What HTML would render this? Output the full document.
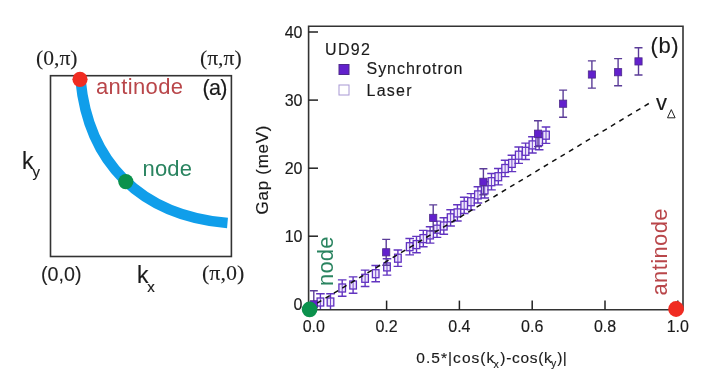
<!DOCTYPE html>
<html><head><meta charset="utf-8"><style>
html,body{margin:0;padding:0;background:#fff;}
body{width:702px;height:379px;overflow:hidden;}
svg{display:block;will-change:transform;}
text{font-family:"Liberation Sans",sans-serif;stroke:currentColor;}
text[fill="#1a1a1a"]{color:#1a1a1a;stroke-width:0.15px;}
text[fill="#222"]{color:#222;stroke-width:0.1px;}
text[fill="#b9464a"],text[fill="#2a8460"]{stroke-width:0;}
.serif{font-family:"Liberation Serif",serif;}
</style></head><body>
<svg width="702" height="379" viewBox="0 0 702 379">
<rect width="702" height="379" fill="#fff"/>

<rect x="50.5" y="75.7" width="180.9" height="180.8" fill="none" stroke="#333" stroke-width="1.6"/>
<path d="M80.5,80 C88.4,162 139.8,215.4 227.5,223" fill="none" stroke="#109eea" stroke-width="10.5"/>
<circle cx="80" cy="79.3" r="7.6" fill="#f02c22"/>
<circle cx="125.8" cy="181.6" r="7.6" fill="#0b914c"/>
<text class="serif" x="36" y="65" font-size="21.6" fill="#222">(0,π)</text>
<text class="serif" x="200" y="65.3" font-size="21.6" fill="#222">(π,π)</text>
<text x="41" y="281" font-size="19.7" fill="#222">(0,0)</text>
<text class="serif" x="202" y="280" font-size="22" fill="#222">(π,0)</text>
<text x="96" y="93.5" font-size="22" textLength="87" lengthAdjust="spacing" fill="#b9464a">antinode</text>
<text x="142.5" y="175.5" font-size="22" textLength="49.5" lengthAdjust="spacing" fill="#2a8460">node</text>
<text x="202.5" y="95" font-size="21.5" textLength="25" lengthAdjust="spacing" fill="#1a1a1a">(a)</text>
<text x="22" y="169" font-size="23" fill="#1a1a1a">k</text><text x="32.5" y="177.3" font-size="15" fill="#1a1a1a">y</text>
<text x="137" y="282.5" font-size="23" fill="#1a1a1a">k</text><text x="147.3" y="291.5" font-size="15" fill="#1a1a1a">x</text>
<path d="M308.6,309.8 V26.3 H683 V309.8 Z" fill="none" stroke="#333" stroke-width="1.6"/>
<line x1="308.6" y1="304.3" x2="318" y2="304.3" stroke="#222" stroke-width="1.5"/>
<text x="302.5" y="310.1" font-size="16" text-anchor="end" fill="#1a1a1a">0</text>
<line x1="308.6" y1="236.2" x2="318" y2="236.2" stroke="#222" stroke-width="1.5"/>
<text x="302.5" y="242.0" font-size="16" text-anchor="end" fill="#1a1a1a">10</text>
<line x1="308.6" y1="168.2" x2="318" y2="168.2" stroke="#222" stroke-width="1.5"/>
<text x="302.5" y="174.0" font-size="16" text-anchor="end" fill="#1a1a1a">20</text>
<line x1="308.6" y1="100.1" x2="318" y2="100.1" stroke="#222" stroke-width="1.5"/>
<text x="302.5" y="105.9" font-size="16" text-anchor="end" fill="#1a1a1a">30</text>
<line x1="308.6" y1="32.0" x2="318" y2="32.0" stroke="#222" stroke-width="1.5"/>
<text x="302.5" y="37.8" font-size="16" text-anchor="end" fill="#1a1a1a">40</text>
<line x1="313.8" y1="309.8" x2="313.8" y2="300.6" stroke="#222" stroke-width="1.5"/>
<text x="313.8" y="331.5" font-size="16" text-anchor="middle" fill="#1a1a1a">0.0</text>
<line x1="386.6" y1="309.8" x2="386.6" y2="300.6" stroke="#222" stroke-width="1.5"/>
<text x="386.6" y="331.5" font-size="16" text-anchor="middle" fill="#1a1a1a">0.2</text>
<line x1="459.4" y1="309.8" x2="459.4" y2="300.6" stroke="#222" stroke-width="1.5"/>
<text x="459.4" y="331.5" font-size="16" text-anchor="middle" fill="#1a1a1a">0.4</text>
<line x1="532.2" y1="309.8" x2="532.2" y2="300.6" stroke="#222" stroke-width="1.5"/>
<text x="532.2" y="331.5" font-size="16" text-anchor="middle" fill="#1a1a1a">0.6</text>
<line x1="605.0" y1="309.8" x2="605.0" y2="300.6" stroke="#222" stroke-width="1.5"/>
<text x="605.0" y="331.5" font-size="16" text-anchor="middle" fill="#1a1a1a">0.8</text>
<line x1="677.8" y1="309.8" x2="677.8" y2="300.6" stroke="#222" stroke-width="1.5"/>
<text x="677.8" y="331.5" font-size="16" text-anchor="middle" fill="#1a1a1a">1.0</text>
<text transform="translate(268.2,214.5) rotate(-90)" font-size="17" textLength="89" lengthAdjust="spacing" fill="#1a1a1a">Gap (meV)</text>
<text x="416.3" y="362.5" font-size="15.5" textLength="78" lengthAdjust="spacing" fill="#1a1a1a">0.5*|cos(k</text>
<text x="493.5" y="367.8" font-size="10.5" fill="#1a1a1a">x</text>
<text x="500.3" y="362.5" font-size="15.5" textLength="51.5" lengthAdjust="spacing" fill="#1a1a1a">)-cos(k</text>
<text x="551" y="367" font-size="10.5" fill="#1a1a1a">y</text>
<text x="557.2" y="362.5" font-size="15.5" textLength="9.5" lengthAdjust="spacing" fill="#1a1a1a">)|</text>
<text x="325" y="54.6" font-size="16" textLength="45" lengthAdjust="spacing" fill="#1a1a1a">UD92</text>
<rect x="339" y="64.5" width="10" height="10" fill="#6220cc" stroke="#4e2a8c" stroke-width="1"/>
<rect x="339" y="85" width="10" height="10" fill="none" stroke="#a898d4" stroke-width="1"/>
<text x="366.5" y="74.4" font-size="16" textLength="96" lengthAdjust="spacing" fill="#1a1a1a">Synchrotron</text>
<text x="366.5" y="95.6" font-size="16" textLength="45" lengthAdjust="spacing" fill="#1a1a1a">Laser</text>
<text x="650.5" y="52.8" font-size="22" textLength="28" lengthAdjust="spacing" fill="#1a1a1a">(b)</text>
<text x="656" y="110" font-size="22" fill="#1a1a1a">v</text>
<path d="M667.5,117.8 L671.3,109.6 L675.1,117.8 Z" fill="none" stroke="#222" stroke-width="1"/>
<defs><clipPath id="pa"><rect x="309.4" y="27" width="673" height="282"/></clipPath></defs><g clip-path="url(#pa)">
<path d="M320.4,293.8 V310.2 M316.1,293.8 H324.7 M316.1,310.2 H324.7" stroke="#6234c0" stroke-width="1.4" fill="none"/>
<rect x="317.1" y="298.0" width="6.6" height="8" fill="#eee6fb" stroke="#6030c0" stroke-width="1.3"/><path d="M320.4,298.0 V306.0" stroke="#7448cc" stroke-width="1"/>
<path d="M330.5,293.8 V310.2 M326.2,293.8 H334.8 M326.2,310.2 H334.8" stroke="#6234c0" stroke-width="1.4" fill="none"/>
<rect x="327.2" y="298.0" width="6.6" height="8" fill="#eee6fb" stroke="#6030c0" stroke-width="1.3"/><path d="M330.5,298.0 V306.0" stroke="#7448cc" stroke-width="1"/>
<path d="M342.2,279.9 V296.2 M337.9,279.9 H346.5 M337.9,296.2 H346.5" stroke="#6234c0" stroke-width="1.4" fill="none"/>
<rect x="338.9" y="284.0" width="6.6" height="8" fill="#eee6fb" stroke="#6030c0" stroke-width="1.3"/><path d="M342.2,284.0 V292.0" stroke="#7448cc" stroke-width="1"/>
<path d="M353.1,276.9 V293.2 M348.8,276.9 H357.4 M348.8,293.2 H357.4" stroke="#6234c0" stroke-width="1.4" fill="none"/>
<rect x="349.8" y="281.0" width="6.6" height="8" fill="#eee6fb" stroke="#6030c0" stroke-width="1.3"/><path d="M353.1,281.0 V289.0" stroke="#7448cc" stroke-width="1"/>
<path d="M365.1,270.1 V286.5 M360.8,270.1 H369.4 M360.8,286.5 H369.4" stroke="#6234c0" stroke-width="1.4" fill="none"/>
<rect x="361.8" y="274.3" width="6.6" height="8" fill="#eee6fb" stroke="#6030c0" stroke-width="1.3"/><path d="M365.1,274.3 V282.3" stroke="#7448cc" stroke-width="1"/>
<path d="M375.7,265.5 V281.8 M371.4,265.5 H380.0 M371.4,281.8 H380.0" stroke="#6234c0" stroke-width="1.4" fill="none"/>
<rect x="372.4" y="269.7" width="6.6" height="8" fill="#eee6fb" stroke="#6030c0" stroke-width="1.3"/><path d="M375.7,269.7 V277.7" stroke="#7448cc" stroke-width="1"/>
<path d="M387.0,258.8 V275.1 M382.7,258.8 H391.3 M382.7,275.1 H391.3" stroke="#6234c0" stroke-width="1.4" fill="none"/>
<rect x="383.7" y="262.9" width="6.6" height="8" fill="#eee6fb" stroke="#6030c0" stroke-width="1.3"/><path d="M387.0,262.9 V270.9" stroke="#7448cc" stroke-width="1"/>
<path d="M397.9,250.0 V266.4 M393.6,250.0 H402.2 M393.6,266.4 H402.2" stroke="#6234c0" stroke-width="1.4" fill="none"/>
<rect x="394.6" y="254.2" width="6.6" height="8" fill="#eee6fb" stroke="#6030c0" stroke-width="1.3"/><path d="M397.9,254.2 V262.2" stroke="#7448cc" stroke-width="1"/>
<path d="M409.7,238.5 V254.9 M405.4,238.5 H414.0 M405.4,254.9 H414.0" stroke="#6234c0" stroke-width="1.4" fill="none"/>
<rect x="406.4" y="242.7" width="6.6" height="8" fill="#eee6fb" stroke="#6030c0" stroke-width="1.3"/><path d="M409.7,242.7 V250.7" stroke="#7448cc" stroke-width="1"/>
<path d="M416.5,236.4 V252.7 M412.2,236.4 H420.8 M412.2,252.7 H420.8" stroke="#6234c0" stroke-width="1.4" fill="none"/>
<rect x="413.2" y="240.6" width="6.6" height="8" fill="#eee6fb" stroke="#6030c0" stroke-width="1.3"/><path d="M416.5,240.6 V248.6" stroke="#7448cc" stroke-width="1"/>
<path d="M423.3,230.4 V246.7 M419.0,230.4 H427.6 M419.0,246.7 H427.6" stroke="#6234c0" stroke-width="1.4" fill="none"/>
<rect x="420.0" y="234.6" width="6.6" height="8" fill="#eee6fb" stroke="#6030c0" stroke-width="1.3"/><path d="M423.3,234.6 V242.6" stroke="#7448cc" stroke-width="1"/>
<path d="M430.1,226.7 V243.1 M425.8,226.7 H434.4 M425.8,243.1 H434.4" stroke="#6234c0" stroke-width="1.4" fill="none"/>
<rect x="426.8" y="230.9" width="6.6" height="8" fill="#eee6fb" stroke="#6030c0" stroke-width="1.3"/><path d="M430.1,230.9 V238.9" stroke="#7448cc" stroke-width="1"/>
<path d="M437.0,221.1 V237.4 M432.7,221.1 H441.3 M432.7,237.4 H441.3" stroke="#6234c0" stroke-width="1.4" fill="none"/>
<rect x="433.7" y="225.2" width="6.6" height="8" fill="#eee6fb" stroke="#6030c0" stroke-width="1.3"/><path d="M437.0,225.2 V233.2" stroke="#7448cc" stroke-width="1"/>
<path d="M443.8,217.8 V234.2 M439.5,217.8 H448.1 M439.5,234.2 H448.1" stroke="#6234c0" stroke-width="1.4" fill="none"/>
<rect x="440.5" y="222.0" width="6.6" height="8" fill="#eee6fb" stroke="#6030c0" stroke-width="1.3"/><path d="M443.8,222.0 V230.0" stroke="#7448cc" stroke-width="1"/>
<path d="M450.6,209.7 V226.0 M446.3,209.7 H454.9 M446.3,226.0 H454.9" stroke="#6234c0" stroke-width="1.4" fill="none"/>
<rect x="447.3" y="213.8" width="6.6" height="8" fill="#eee6fb" stroke="#6030c0" stroke-width="1.3"/><path d="M450.6,213.8 V221.8" stroke="#7448cc" stroke-width="1"/>
<path d="M457.4,204.7 V221.0 M453.1,204.7 H461.7 M453.1,221.0 H461.7" stroke="#6234c0" stroke-width="1.4" fill="none"/>
<rect x="454.1" y="208.9" width="6.6" height="8" fill="#eee6fb" stroke="#6030c0" stroke-width="1.3"/><path d="M457.4,208.9 V216.9" stroke="#7448cc" stroke-width="1"/>
<path d="M464.2,197.2 V213.5 M459.9,197.2 H468.5 M459.9,213.5 H468.5" stroke="#6234c0" stroke-width="1.4" fill="none"/>
<rect x="460.9" y="201.3" width="6.6" height="8" fill="#eee6fb" stroke="#6030c0" stroke-width="1.3"/><path d="M464.2,201.3 V209.3" stroke="#7448cc" stroke-width="1"/>
<path d="M471.0,193.6 V209.9 M466.7,193.6 H475.3 M466.7,209.9 H475.3" stroke="#6234c0" stroke-width="1.4" fill="none"/>
<rect x="467.7" y="197.7" width="6.6" height="8" fill="#eee6fb" stroke="#6030c0" stroke-width="1.3"/><path d="M471.0,197.7 V205.7" stroke="#7448cc" stroke-width="1"/>
<path d="M477.9,186.7 V203.0 M473.6,186.7 H482.2 M473.6,203.0 H482.2" stroke="#6234c0" stroke-width="1.4" fill="none"/>
<rect x="474.6" y="190.9" width="6.6" height="8" fill="#eee6fb" stroke="#6030c0" stroke-width="1.3"/><path d="M477.9,190.9 V198.9" stroke="#7448cc" stroke-width="1"/>
<path d="M484.7,181.7 V198.0 M480.4,181.7 H489.0 M480.4,198.0 H489.0" stroke="#6234c0" stroke-width="1.4" fill="none"/>
<rect x="481.4" y="185.9" width="6.6" height="8" fill="#eee6fb" stroke="#6030c0" stroke-width="1.3"/><path d="M484.7,185.9 V193.9" stroke="#7448cc" stroke-width="1"/>
<path d="M491.5,173.5 V189.9 M487.2,173.5 H495.8 M487.2,189.9 H495.8" stroke="#6234c0" stroke-width="1.4" fill="none"/>
<rect x="488.2" y="177.7" width="6.6" height="8" fill="#eee6fb" stroke="#6030c0" stroke-width="1.3"/><path d="M491.5,177.7 V185.7" stroke="#7448cc" stroke-width="1"/>
<path d="M498.3,168.5 V184.9 M494.0,168.5 H502.6 M494.0,184.9 H502.6" stroke="#6234c0" stroke-width="1.4" fill="none"/>
<rect x="495.0" y="172.7" width="6.6" height="8" fill="#eee6fb" stroke="#6030c0" stroke-width="1.3"/><path d="M498.3,172.7 V180.7" stroke="#7448cc" stroke-width="1"/>
<path d="M505.1,160.3 V176.6 M500.8,160.3 H509.4 M500.8,176.6 H509.4" stroke="#6234c0" stroke-width="1.4" fill="none"/>
<rect x="501.8" y="164.5" width="6.6" height="8" fill="#eee6fb" stroke="#6030c0" stroke-width="1.3"/><path d="M505.1,164.5 V172.5" stroke="#7448cc" stroke-width="1"/>
<path d="M511.9,155.3 V171.6 M507.6,155.3 H516.2 M507.6,171.6 H516.2" stroke="#6234c0" stroke-width="1.4" fill="none"/>
<rect x="508.6" y="159.4" width="6.6" height="8" fill="#eee6fb" stroke="#6030c0" stroke-width="1.3"/><path d="M511.9,159.4 V167.4" stroke="#7448cc" stroke-width="1"/>
<path d="M518.7,147.0 V163.4 M514.4,147.0 H523.0 M514.4,163.4 H523.0" stroke="#6234c0" stroke-width="1.4" fill="none"/>
<rect x="515.4" y="151.2" width="6.6" height="8" fill="#eee6fb" stroke="#6030c0" stroke-width="1.3"/><path d="M518.7,151.2 V159.2" stroke="#7448cc" stroke-width="1"/>
<path d="M525.6,143.1 V159.5 M521.3,143.1 H529.9 M521.3,159.5 H529.9" stroke="#6234c0" stroke-width="1.4" fill="none"/>
<rect x="522.3" y="147.3" width="6.6" height="8" fill="#eee6fb" stroke="#6030c0" stroke-width="1.3"/><path d="M525.6,147.3 V155.3" stroke="#7448cc" stroke-width="1"/>
<path d="M532.4,136.7 V153.0 M528.1,136.7 H536.7 M528.1,153.0 H536.7" stroke="#6234c0" stroke-width="1.4" fill="none"/>
<rect x="529.1" y="140.9" width="6.6" height="8" fill="#eee6fb" stroke="#6030c0" stroke-width="1.3"/><path d="M532.4,140.9 V148.9" stroke="#7448cc" stroke-width="1"/>
<path d="M539.2,133.5 V149.8 M534.9,133.5 H543.5 M534.9,149.8 H543.5" stroke="#6234c0" stroke-width="1.4" fill="none"/>
<rect x="535.9" y="137.6" width="6.6" height="8" fill="#eee6fb" stroke="#6030c0" stroke-width="1.3"/><path d="M539.2,137.6 V145.6" stroke="#7448cc" stroke-width="1"/>
<path d="M546.0,127.0 V143.4 M541.7,127.0 H550.3 M541.7,143.4 H550.3" stroke="#6234c0" stroke-width="1.4" fill="none"/>
<rect x="542.7" y="131.2" width="6.6" height="8" fill="#eee6fb" stroke="#6030c0" stroke-width="1.3"/><path d="M546.0,131.2 V139.2" stroke="#7448cc" stroke-width="1"/>
<path d="M313.8,290.7 V317.9 M309.8,290.7 H317.8 M309.8,317.9 H317.8" stroke="#5b3c98" stroke-width="1.4" fill="none"/>
<rect x="310.2" y="300.7" width="7.2" height="7.2" fill="#6220cc" stroke="#4e2a8c" stroke-width="0.8"/>
<path d="M386.2,239.4 V265.2 M382.2,239.4 H390.2 M382.2,265.2 H390.2" stroke="#5b3c98" stroke-width="1.4" fill="none"/>
<rect x="382.6" y="248.7" width="7.2" height="7.2" fill="#6220cc" stroke="#4e2a8c" stroke-width="0.8"/>
<path d="M433.2,204.9 V230.8 M429.2,204.9 H437.2 M429.2,230.8 H437.2" stroke="#5b3c98" stroke-width="1.4" fill="none"/>
<rect x="429.6" y="214.3" width="7.2" height="7.2" fill="#6220cc" stroke="#4e2a8c" stroke-width="0.8"/>
<path d="M483.4,168.8 V194.7 M479.4,168.8 H487.4 M479.4,194.7 H487.4" stroke="#5b3c98" stroke-width="1.4" fill="none"/>
<rect x="479.8" y="178.2" width="7.2" height="7.2" fill="#6220cc" stroke="#4e2a8c" stroke-width="0.8"/>
<path d="M538.0,120.8 V146.6 M534.0,120.8 H542.0 M534.0,146.6 H542.0" stroke="#5b3c98" stroke-width="1.4" fill="none"/>
<rect x="534.4" y="130.1" width="7.2" height="7.2" fill="#6220cc" stroke="#4e2a8c" stroke-width="0.8"/>
<path d="M563.1,90.1 V117.3 M559.1,90.1 H567.1 M559.1,117.3 H567.1" stroke="#5b3c98" stroke-width="1.4" fill="none"/>
<rect x="559.5" y="100.1" width="7.2" height="7.2" fill="#6220cc" stroke="#4e2a8c" stroke-width="0.8"/>
<path d="M591.9,60.9 V88.1 M587.9,60.9 H595.9 M587.9,88.1 H595.9" stroke="#5b3c98" stroke-width="1.4" fill="none"/>
<rect x="588.3" y="70.9" width="7.2" height="7.2" fill="#6220cc" stroke="#4e2a8c" stroke-width="0.8"/>
<path d="M618.1,58.6 V85.8 M614.1,58.6 H622.1 M614.1,85.8 H622.1" stroke="#5b3c98" stroke-width="1.4" fill="none"/>
<rect x="614.5" y="68.6" width="7.2" height="7.2" fill="#6220cc" stroke="#4e2a8c" stroke-width="0.8"/>
<path d="M638.5,47.8 V75.0 M634.5,47.8 H642.5 M634.5,75.0 H642.5" stroke="#5b3c98" stroke-width="1.4" fill="none"/>
<rect x="634.9" y="57.8" width="7.2" height="7.2" fill="#6220cc" stroke="#4e2a8c" stroke-width="0.8"/>
</g>
<line x1="648.8" y1="103.5" x2="315.3" y2="304.3" stroke="#111" stroke-width="1.5" stroke-dasharray="5,4.8"/>
<text transform="translate(332.5,286) rotate(-90)" font-size="22" textLength="49.5" lengthAdjust="spacing" fill="#2a8460">node</text>
<text transform="translate(667.3,295.5) rotate(-90)" font-size="22" textLength="87" lengthAdjust="spacing" fill="#b9464a">antinode</text>
<circle cx="309.6" cy="309.4" r="7.8" fill="#0b914c"/>
<circle cx="676.1" cy="309" r="7.9" fill="#f02c22"/>
</svg></body></html>
